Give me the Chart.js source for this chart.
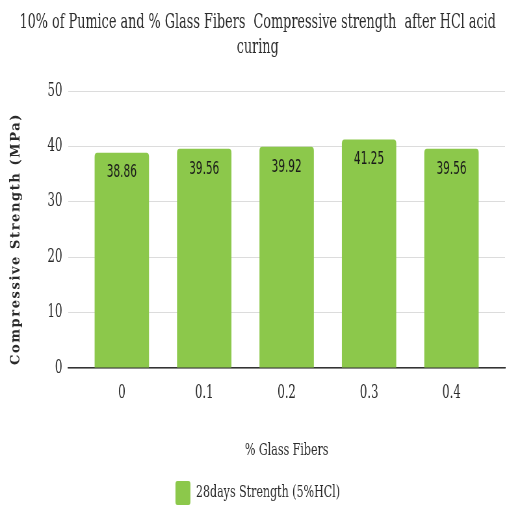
<!DOCTYPE html>
<html>
<head>
<meta charset="utf-8">
<script src="https://cdn.jsdelivr.net/npm/chart.js@4/dist/chart.umd.min.js"></script>
<style>
  html, body { margin: 0; padding: 0; background: #fff; overflow: hidden; width: 507px; height: 507px; }
  /* the chart is laid out on a wider canvas and squeezed horizontally */
  #wrap { width: 780px; height: 507px; transform: scaleX(0.65); transform-origin: 0 0; }
</style>
</head>
<body>
<div id="wrap"><canvas id="c" width="780" height="507"></canvas></div>
<script>
// Fiber contents (%) and 28-day compressive strength after 5% HCl curing
const fiberLabels = ["0", "0.1", "0.2", "0.3", "0.4"];
const strength = [38.86, 39.56, 39.92, 41.25, 39.56];
const yTicks = [0, 10, 20, 30, 40, 50];
const seriesName = "28days Strength (5%HCl)";
const chartTitle = ["10% of Pumice and % Glass Fibers  Compressive strength  after HCl acid", "curing"];
const yTitle = "Compressive Strength (MPa)";

const SQUEEZE = 0.65;
const GREEN = "#8cc84b";
const serif = "'DejaVu Serif', serif";

// Writes each bar's value inside the top of the bar
const valueLabels = {
  id: "valueLabels",
  afterDatasetsDraw(chart) {
    const ctx = chart.ctx;
    const meta = chart.getDatasetMeta(0);
    ctx.save();
    ctx.font = "18px 'Liberation Sans Narrow', 'DejaVu Sans Condensed', sans-serif";
    ctx.fillStyle = "#1a1a1a";
    ctx.textAlign = "center";
    ctx.textBaseline = "middle";
    meta.data.forEach((bar, i) => {
      ctx.fillText(strength[i].toFixed(2), bar.x, bar.y + 20);
    });
    ctx.restore();
  }
};

// Rotated, letter-spaced title for the value axis (kept unsqueezed)
const yAxisTitle = {
  id: "yAxisTitle",
  afterDraw(chart) {
    const ctx = chart.ctx;
    ctx.save();
    ctx.translate(16 / SQUEEZE, 239);
    ctx.scale(1 / SQUEEZE, 1);
    ctx.rotate(-Math.PI / 2);
    ctx.font = "600 13px 'DejaVu Serif', serif";
    ctx.letterSpacing = "1.6px";
    ctx.fillStyle = "#2a2a2a";
    ctx.textAlign = "center";
    ctx.textBaseline = "middle";
    ctx.fillText(yTitle, 0, 0);
    ctx.restore();
  }
};

new Chart(document.getElementById("c"), {
  type: "bar",
  data: {
    datasets: [{
      label: seriesName,
      data: strength.map((v, i) => ({ x: i, y: v })),
      backgroundColor: GREEN,
      borderRadius: { topLeft: 4, topRight: 4 },
      borderSkipped: "bottom",
      barPercentage: 0.66,
      categoryPercentage: 1.0
    }]
  },
  plugins: [valueLabels, yAxisTitle],
  options: {
    responsive: false,
    animation: false,
    devicePixelRatio: 1,
    layout: { padding: { left: 16, right: 3, top: 0, bottom: -8 } },
    plugins: {
      title: {
        display: true,
        text: chartTitle,
        color: "#2b2b2b",
        font: { family: serif, size: 19.7, weight: "normal", lineHeight: 1.25 },
        padding: { top: 10.5, bottom: 31.25 }
      },
      legend: {
        display: true,
        position: "bottom",
        labels: {
          color: "#2b2b2b",
          font: { family: serif, size: 17 },
          boxWidth: 23,
          boxHeight: 24,
          padding: 0,
          useBorderRadius: true,
          borderRadius: 3
        }
      },
      tooltip: { enabled: false }
    },
    scales: {
      x: {
        type: "linear",
        min: -0.65,
        max: 4.65,
        offset: false,
        afterBuildTicks(scale) {
          scale.ticks = fiberLabels.map((_, i) => ({ value: i }));
        },
        ticks: {
          color: "#2b2b2b",
          font: { family: serif, size: 18 },
          padding: 15,
          maxRotation: 0,
          callback: (v) => fiberLabels[v]
        },
        grid: { display: false, drawTicks: false },
        border: { display: true, color: "#333", width: 1.5 },
        title: {
          display: true,
          text: "% Glass Fibers",
          color: "#2b2b2b",
          font: { family: serif, size: 17 },
          padding: { top: 21, bottom: 20 }
        }
      },
      y: {
        min: 0,
        max: 50,
        afterBuildTicks(scale) {
          scale.ticks = yTicks.map(v => ({ value: v }));
        },
        afterFit(scale) { scale.width = 89; },
        ticks: {
          color: "#2b2b2b",
          font: { family: serif, size: 18 },
          padding: 9
        },
        grid: { color: "#dcdcdc", drawTicks: false, lineWidth: 1 },
        border: { display: false },
        title: { display: false }
      }
    }
  }
});
</script>
</body>
</html>
